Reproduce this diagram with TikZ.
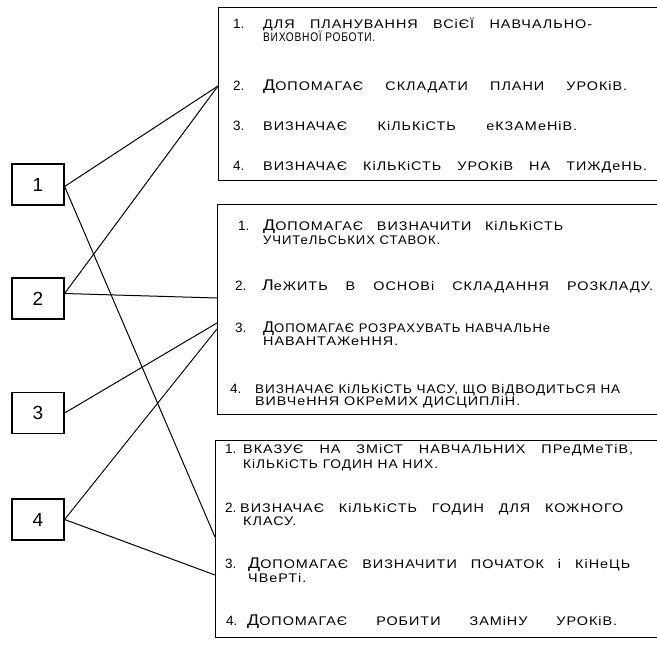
\documentclass[tikz,border=0pt]{standalone}
\usepackage{fontspec}
\usepackage{graphicx}
\usetikzlibrary{calc}
\setmainfont{Liberation Sans}
\newfontfamily\hand{Liberation Sans}[FakeStretch=1.15,LetterSpace=8]
\newlength\tlw
\newcommand\bigc[1]{{\fontsize{15.5}{15}\selectfont #1}}
\newcommand\fitline[2]{%
  \settowidth\tlw{#2}%
  \ifdim\tlw>#1pt
    \resizebox{#1pt}{\height}{#2}%
  \else
    \hbox to #1pt{\spaceskip=0.3em plus 1fill\xspaceskip=0.3em plus 1fill\relax #2\hfil}%
  \fi}
\newcommand\tl[5]{\node[txt] (#1) at (#2,#3) {\fitline{#4}{#5}};}
\tikzset{
  lbox/.style={draw, line width=1.2pt, minimum width=52pt, minimum height=41pt, inner sep=0pt,
    font=\fontsize{19}{19}\selectfont},
  rbox/.style={draw, line width=1.2pt, inner sep=0pt, anchor=north west, minimum width=470pt},
  txt/.style={anchor=base west, inner sep=0pt, font=\hand\fontsize{12.5}{13}\selectfont},
  num/.style={anchor=base west, inner sep=0pt, font=\fontsize{13.5}{14}\selectfont},
  link/.style={line width=1pt},
}
\begin{document}
\begin{tikzpicture}[x=1pt,y=-1pt]
\useasboundingbox (0,0) rectangle (657,646);
\clip (0,0) rectangle (657,646);
% right boxes (open to the right, cut by the page edge)
\node[rbox, minimum height=173pt] (A) at (218,7) {};
\node[rbox, minimum height=210pt] (B) at (217,204) {};
\node[rbox, minimum height=197pt] (C) at (215,440) {};
% left boxes
\node[lbox] (n1) at (38,184.5) {1};
\node[lbox] (n2) at (38,298.5) {2};
\node[lbox] (n3) at (38,413) {3};
\node[lbox] (n4) at (38,519.5) {4};
% attachment points
\coordinate (pA) at ($(A.north west)+(0,79)$);
\coordinate (pB2) at ($(B.north west)+(0,94)$);
\coordinate (pB3) at ($(B.north west)+(0,119)$);
\coordinate (pB4) at ($(B.north west)+(0,125)$);
\coordinate (pC1) at ($(C.north west)+(0,97)$);
\coordinate (pC4) at ($(C.north west)+(0,135)$);
% connectors
\draw[link] ([yshift=-2pt]n1.east) -- (pA);
\draw[link] ([yshift=-2pt]n1.east) -- (pC1);
\draw[link] ([yshift=5pt]n2.east) -- (pA);
\draw[link] ([yshift=5pt]n2.east) -- (pB2);
\draw[link] (n3.east) -- (pB3);
\draw[link] (n4.east) -- (pB4);
\draw[link] (n4.east) -- (pC4);
% box A texts
\node[num] (a1n) at (233,28) {1.};
\tl{a1}{263}{28}{329}{ДЛЯ ПЛАНУВАННЯ ВСіЄЇ НАВЧАЛЬНО-}
\tl{a1b}{263}{41}{112}{ВИХОВНОЇ РОБОТИ.}
\node[num] (a2n) at (233,90) {2.};
\tl{a2}{263}{90}{364}{\bigc{Д}ОПОМАГАЄ СКЛАДАТИ ПЛАНИ УРОКіВ.}
\node[num] (a3n) at (233,130) {3.};
\tl{a3}{263}{130}{314}{ВИЗНАЧАЄ КіЛЬКіСТЬ еКЗАМеНіВ.}
\node[num] (a4n) at (233,170) {4.};
\tl{a4}{263}{170}{384}{ВИЗНАЧАЄ КіЛЬКіСТЬ УРОКіВ НА ТИЖДеНЬ.}
% box B texts
\node[num] (b1n) at (238,230) {1.};
\tl{b1}{263}{230}{300}{\bigc{Д}ОПОМАГАЄ ВИЗНАЧИТИ КіЛЬКіСТЬ}
\tl{b1b}{263}{244}{177}{УЧИТеЛЬСЬКИХ СТАВОК.}
\node[num] (b2n) at (235,290) {2.};
\tl{b2}{262}{290}{391}{\bigc{Л}еЖИТЬ В ОСНОВі СКЛАДАННЯ РОЗКЛАДУ.}
\node[num] (b3n) at (235,332) {3.};
\tl{b3}{263}{332}{287}{\bigc{Д}ОПОМАГАЄ РОЗРАХУВАТЬ НАВЧАЛЬНе}
\tl{b3b}{263}{345}{137}{НАВАНТАЖеННЯ.}
\node[num] (b4n) at (230,393) {4.};
\tl{b4}{255}{393}{365}{ВИЗНАЧАЄ КіЛЬКіСТЬ ЧАСУ, ЩО ВіДВОДИТЬСЯ НА}
\tl{b4b}{255}{405}{265}{ВИВЧеННЯ ОКРеМИХ ДИСЦИПЛіН.}
% box C texts
\node[num] (c1n) at (225,453) {1.};
\tl{c1}{243}{453}{390}{ВКАЗУЄ НА ЗМіСТ НАВЧАЛЬНИХ ПРеДМеТіВ,}
\tl{c1b}{243}{468}{195}{КіЛЬКіСТЬ ГОДИН НА НИХ.}
\node[num] (c2n) at (225,512) {2.};
\tl{c2}{240}{512}{383}{ВИЗНАЧАЄ КіЛЬКіСТЬ ГОДИН ДЛЯ КОЖНОГО}
\tl{c2b}{243}{525}{59}{КЛАСУ.}
\node[num] (c3n) at (225,568) {3.};
\tl{c3}{248}{568}{382}{\bigc{Д}ОПОМАГАЄ ВИЗНАЧИТИ ПОЧАТОК і КіНеЦЬ}
\tl{c3b}{248}{582}{67}{ЧВеРТі.}
\node[num] (c4n) at (226,625) {4.};
\tl{c4}{247}{625}{370}{\bigc{Д}ОПОМАГАЄ РОБИТИ ЗАМіНУ УРОКіВ.}
\end{tikzpicture}
\end{document}
